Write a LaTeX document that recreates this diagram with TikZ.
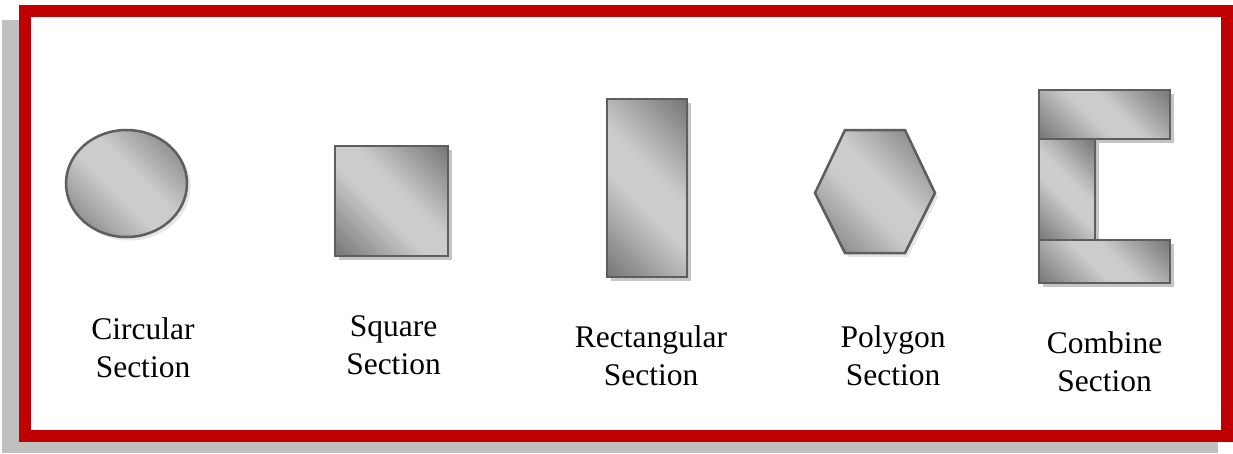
\documentclass[tikz,border=0pt]{standalone}
\usepackage{fontspec}
\setmainfont{Liberation Serif}
\definecolor{framered}{HTML}{C00000}
\definecolor{frameshadow}{HTML}{C0C0C0}
\definecolor{mdark}{HTML}{686868}
\definecolor{mlight}{HTML}{CCCCCC}
\definecolor{edgegray}{HTML}{5E5E5E}
\definecolor{shapeshadow}{HTML}{C4C4C4}
\definecolor{softshadow}{HTML}{E6E6E6}
\pgfdeclarehorizontalshading{metal}{100bp}{color(0bp)=(mdark); color(10bp)=(mdark); color(44bp)=(mlight); color(56bp)=(mlight); color(90bp)=(mdark); color(100bp)=(mdark)}
\tikzset{
  metalshape/.style={shading=metal, shading angle=45, draw=edgegray, line width=2.5pt},
  hardshadow/.style={fill=shapeshadow, draw=none},
  lightshadow/.style={fill=softshadow, draw=none},
  label/.style={font=\fontsize{31.5}{38}\selectfont, align=center, inner sep=0pt, anchor=base},
}
\begin{document}
\begin{tikzpicture}[x=1pt,y=-1pt]
\useasboundingbox (0,0) rectangle (1233,453);
% frame
\fill[frameshadow] (2,20) rectangle (1218,453);
\draw[framered, line width=12pt, fill=white] (25,11) rectangle (1227,436);

% circle
\fill[lightshadow] (129.5,186.5) ellipse [x radius=61, y radius=54];
\path[metalshape] (126.5,183.5) ellipse [x radius=60.5, y radius=53.5];

% square
\fill[hardshadow] (339,150) rectangle (452,260);
\path[metalshape] (335,146) rectangle (448,256);

% rectangle
\fill[hardshadow] (611,103) rectangle (691,281);
\path[metalshape] (607,99) rectangle (687,277);

% hexagon
\fill[lightshadow] (818,197) -- (848,134) -- (908,134) -- (938,197) -- (908,257) -- (848,257) -- cycle;
\path[metalshape] (815,193) -- (845,130) -- (905,130) -- (935,193) -- (905,253) -- (845,253) -- cycle;

% combine
\fill[hardshadow] (1043,94) rectangle (1174,143);
\fill[hardshadow] (1043,143) rectangle (1099,244);
\fill[hardshadow] (1043,244) rectangle (1174,287);
\path[metalshape] (1039,139) rectangle (1095,240);
\path[metalshape] (1039,90) rectangle (1170,139);
\path[metalshape] (1039,240) rectangle (1170,283);

% labels
\node[label] (l1) at (143,377) {Circular\\Section};
\node[label] (l2) at (393.5,374) {Square\\Section};
\node[label] (l3) at (651,385) {Rectangular\\Section};
\node[label] (l4) at (893,385) {Polygon\\Section};
\node[label] (l5) at (1104.5,391) {Combine\\Section};
\end{tikzpicture}
\end{document}
